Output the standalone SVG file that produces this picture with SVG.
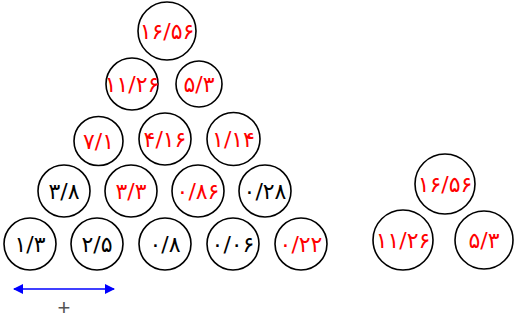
<svg xmlns="http://www.w3.org/2000/svg" width="514" height="322" viewBox="0 0 514 322">
<style>
circle{fill:#fff;stroke:#000;stroke-width:1.6}
text{font-family:"DejaVu Sans",sans-serif;font-size:22px;letter-spacing:1px;text-anchor:middle;dominant-baseline:central}
.r{fill:#f00}
.k{fill:#000}
</style>
<defs>
<marker id="ah" markerWidth="10" markerHeight="10" refX="9" refY="5" orient="auto-start-reverse" markerUnits="userSpaceOnUse">
<path d="M0,0 L10,5 L0,10 z" fill="#00f"/>
</marker>
</defs>
<g id="n1"><circle cx="167" cy="31" r="29"/><text class="r" x="167" y="31">۱۶/۵۶</text></g>
<g id="n2"><circle cx="132" cy="84" r="26"/><text class="r" x="132" y="84">۱۱/۲۶</text></g>
<g id="n3"><circle cx="199" cy="84" r="23"/><text class="r" x="199" y="84">۵/۳</text></g>
<g id="n4"><circle cx="98.5" cy="141" r="24.5"/><text class="r" x="98.5" y="141">۷/۱</text></g>
<g id="n5"><circle cx="165" cy="139" r="26"/><text class="r" x="165" y="139">۴/۱۶</text></g>
<g id="n6"><circle cx="233.5" cy="139" r="26.5"/><text class="r" x="233.5" y="139">۱/۱۴</text></g>
<g id="n7"><circle cx="64" cy="191" r="26"/><text class="k" x="64" y="191">۳/۸</text></g>
<g id="n8"><circle cx="131" cy="191" r="26"/><text class="r" x="131" y="191">۳/۳</text></g>
<g id="n9"><circle cx="198" cy="191" r="26"/><text class="r" x="198" y="191">۰/۸۶</text></g>
<g id="n10"><circle cx="265" cy="191" r="26"/><text class="k" x="265" y="191">۰/۲۸</text></g>
<g id="n11"><circle cx="30" cy="244" r="26"/><text class="k" x="30" y="244">۱/۳</text></g>
<g id="n12"><circle cx="97" cy="244" r="26"/><text class="k" x="97" y="244">۲/۵</text></g>
<g id="n13"><circle cx="165" cy="244" r="26"/><text class="k" x="165" y="244">۰/۸</text></g>
<g id="n14"><circle cx="233" cy="244" r="26"/><text class="k" x="233" y="244">۰/۰۶</text></g>
<g id="n15"><circle cx="301" cy="244" r="26"/><text class="r" x="301" y="244">۰/۲۲</text></g>
<g id="m1"><circle cx="445" cy="184" r="30"/><text class="r" x="445" y="184">۱۶/۵۶</text></g>
<g id="m2"><circle cx="403" cy="240" r="30"/><text class="r" x="403" y="240">۱۱/۲۶</text></g>
<g id="m3"><circle cx="484" cy="240" r="29"/><text class="r" x="484" y="240">۵/۳</text></g>
<g id="connectors">
<line x1="14" y1="289" x2="114" y2="289" stroke="#00f" stroke-width="1.5" marker-start="url(#ah)" marker-end="url(#ah)"/>
</g>
<text x="64" y="307" style="font-family:'Liberation Sans',sans-serif;font-size:22px;letter-spacing:0;fill:#555">+</text>
</svg>
